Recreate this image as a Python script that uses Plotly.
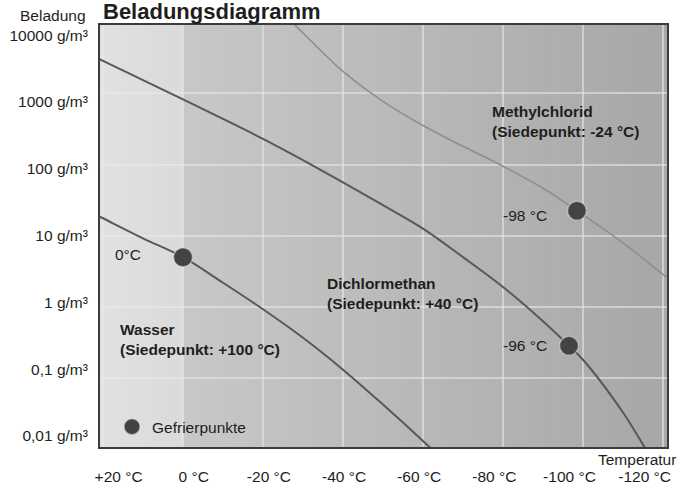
import plotly.graph_objects as go

# ---------------- data ----------------
water_t = [22, 20, 10, 0, -10, -20, -30, -40, -50, -60, -64]
water_c = [20.0, 17.6, 9.2, 5.0, 2.19, 0.93, 0.37, 0.132, 0.0427, 0.0132, 0.0081]

dcm_t = [22, 20, 10, 0, -10, -20, -30, -40, -50, -60, -70, -80, -90, -96.5, -100, -110, -115, -117]
dcm_c = [3236, 2851, 1531, 822, 437, 229, 115, 56.2, 26.9, 12.6, 5.01, 1.91, 0.631, 0.285, 0.182, 0.0331, 0.0117, 0.0076]

mecl_t = [-26, -30, -40, -50, -60, -70, -80, -90, -98.5, -110, -120, -123]
mecl_c = [11750, 7015, 2023, 769, 352, 180, 94.6, 46.4, 22.4, 7.94, 2.88, 2.14]

freeze_t = [0, -96.5, -98.5]
freeze_c = [5.0, 0.285, 22.4]
freeze_labels = ["0°C", "-96 °C", "-98 °C"]

x_tick_vals = [20, 0, -20, -40, -60, -80, -100, -120]
x_tick_text = ["+20 °C", "0 °C", "-20 °C", "-40 °C", "-60 °C", "-80 °C", "-100 °C", "-120 °C"]
y_tick_vals = [0.01, 0.1, 1, 10, 100, 1000, 10000]
y_tick_text = ["0,01 g/m³", "0,1 g/m³", "1 g/m³", "10 g/m³", "100 g/m³", "1000 g/m³", "10000 g/m³"]

# ---------------- style ----------------
FONT = "Liberation Sans, Arial, Helvetica, sans-serif"
TXT = "#1e1e1e"
FS = 15.5
X_RANGE = [20.75, -121]
Y_RANGE = [-1.965, 3.958]
X_LABEL_RANGE = [24.95, -125.96]
Y_LABEL_RANGE = [-2.166, 4.153]

fig = go.Figure()

line_style = dict(shape="spline", smoothing=1.0)
fig.add_trace(go.Scatter(x=water_t, y=water_c, mode="lines", line=dict(color="#585858", width=2, **line_style),
                         showlegend=False, hoverinfo="skip"))
fig.add_trace(go.Scatter(x=dcm_t, y=dcm_c, mode="lines", line=dict(color="#585858", width=2, **line_style),
                         showlegend=False, hoverinfo="skip"))
fig.add_trace(go.Scatter(x=mecl_t, y=mecl_c, mode="lines", line=dict(color="#8e8e8e", width=1.6, **line_style),
                         showlegend=False, hoverinfo="skip"))
fig.add_trace(go.Scatter(x=freeze_t, y=freeze_c, mode="markers", name="Gefrierpunkte",
                         marker=dict(color="#434343", size=19, line=dict(color="rgba(230,230,230,0.5)", width=1.5)),
                         showlegend=True))
# invisible trace carrying the label axes
fig.add_trace(go.Scatter(x=[], y=[], xaxis="x2", yaxis="y2", showlegend=False, hoverinfo="skip"))

# background: light band (T > 0) and gradient for the rest
shapes = []
span = X_RANGE[0] - X_RANGE[1]
f0 = (X_RANGE[0] - 0) / span
nb = 8
for i in range(nb):
    g = int(225 - 6 * i / (nb - 1))
    shapes.append(dict(type="rect", xref="x domain", yref="y domain", x0=f0 * i / nb, x1=f0, y0=0, y1=1,
                       fillcolor=f"rgb({g},{g},{g})", line=dict(width=0), layer="below"))
n = 50
for i in range(n):
    g = int(200 - 32 * i / (n - 1))
    shapes.append(dict(type="rect", xref="x domain", yref="y domain", x0=f0 + (1 - f0) * i / n, x1=1, y0=0, y1=1,
                       fillcolor=f"rgb({g},{g},{g})", line=dict(width=0), layer="below"))

def ann(text, x, y, xanchor="left", bold=False, size=FS):
    return dict(text=f"<b>{text}</b>" if bold else text, xref="paper", yref="paper", x=x, y=y,
                xanchor=xanchor, yanchor="middle", showarrow=False, align="left",
                font=dict(family=FONT, size=size, color=TXT))

annotations = [
    ann("Beladungsdiagramm", 0.002, 1.0322, bold=True, size=22),
    ann("Beladung", -0.0212, 1.0218, xanchor="right"),
    ann("Temperatur", 1.0194, -0.0303, xanchor="right"),
    ann(freeze_labels[0], 0.0229, 0.4571),
    ann(freeze_labels[1], 0.7919, 0.2398, xanchor="right"),
    ann(freeze_labels[2], 0.7919, 0.5479, xanchor="right"),
    ann("Wasser<br>(Siedepunkt: +100 °C)", 0.0317, 0.254, bold=True, size=15.5),
    ann("Dichlormethan<br>(Siedepunkt: +40 °C)", 0.3968, 0.3626, bold=True, size=15.5),
    ann("Methylchlorid<br>(Siedepunkt: -24 °C)", 0.6878, 0.7706, bold=True, size=15.5),
]

grid_col = "rgba(235,235,235,0.55)"
fig.update_layout(
    width=680, height=493,
    margin=dict(l=100, r=13, t=25, b=46, pad=0),
    paper_bgcolor="white", plot_bgcolor="#bdbdbd",
    font=dict(family=FONT, size=FS, color=TXT),
    shapes=shapes, annotations=annotations,
    showlegend=True,
    legend=dict(x=0.0212, y=0.047, xanchor="left", yanchor="middle", bgcolor="rgba(0,0,0,0)",
                borderwidth=0, font=dict(family=FONT, size=FS, color=TXT), itemsizing="trace"),
    xaxis=dict(range=X_RANGE, tickmode="array", tickvals=x_tick_vals, showticklabels=False,
               showgrid=True, gridcolor=grid_col, gridwidth=2, zeroline=False, automargin=False,
               showline=True, linecolor="#3c3c3c", linewidth=2, mirror=True, ticks=""),
    yaxis=dict(type="log", range=Y_RANGE, tickmode="array", tickvals=y_tick_vals, showticklabels=False,
               showgrid=True, gridcolor=grid_col, gridwidth=2, zeroline=False, automargin=False,
               showline=True, linecolor="#3c3c3c", linewidth=2, mirror=True, ticks=""),
    xaxis2=dict(overlaying="x", anchor="y", side="bottom", range=X_LABEL_RANGE, tickmode="array",
                tickvals=x_tick_vals, ticktext=x_tick_text, showgrid=False, zeroline=False, showline=False,
                ticks="outside", ticklen=15, tickcolor="rgba(0,0,0,0)", automargin=False,
                tickfont=dict(family=FONT, size=FS, color=TXT)),
    yaxis2=dict(overlaying="y", anchor="x", side="left", type="log", range=Y_LABEL_RANGE, tickmode="array",
                tickvals=y_tick_vals, ticktext=y_tick_text, showgrid=False, zeroline=False, showline=False,
                ticks="outside", ticklen=8, tickcolor="rgba(0,0,0,0)", automargin=False,
                tickfont=dict(family=FONT, size=FS, color=TXT)),
)

fig.write_html("out.html", config={"displayModeBar": False},
               post_script="document.body.style.margin='0px';")
